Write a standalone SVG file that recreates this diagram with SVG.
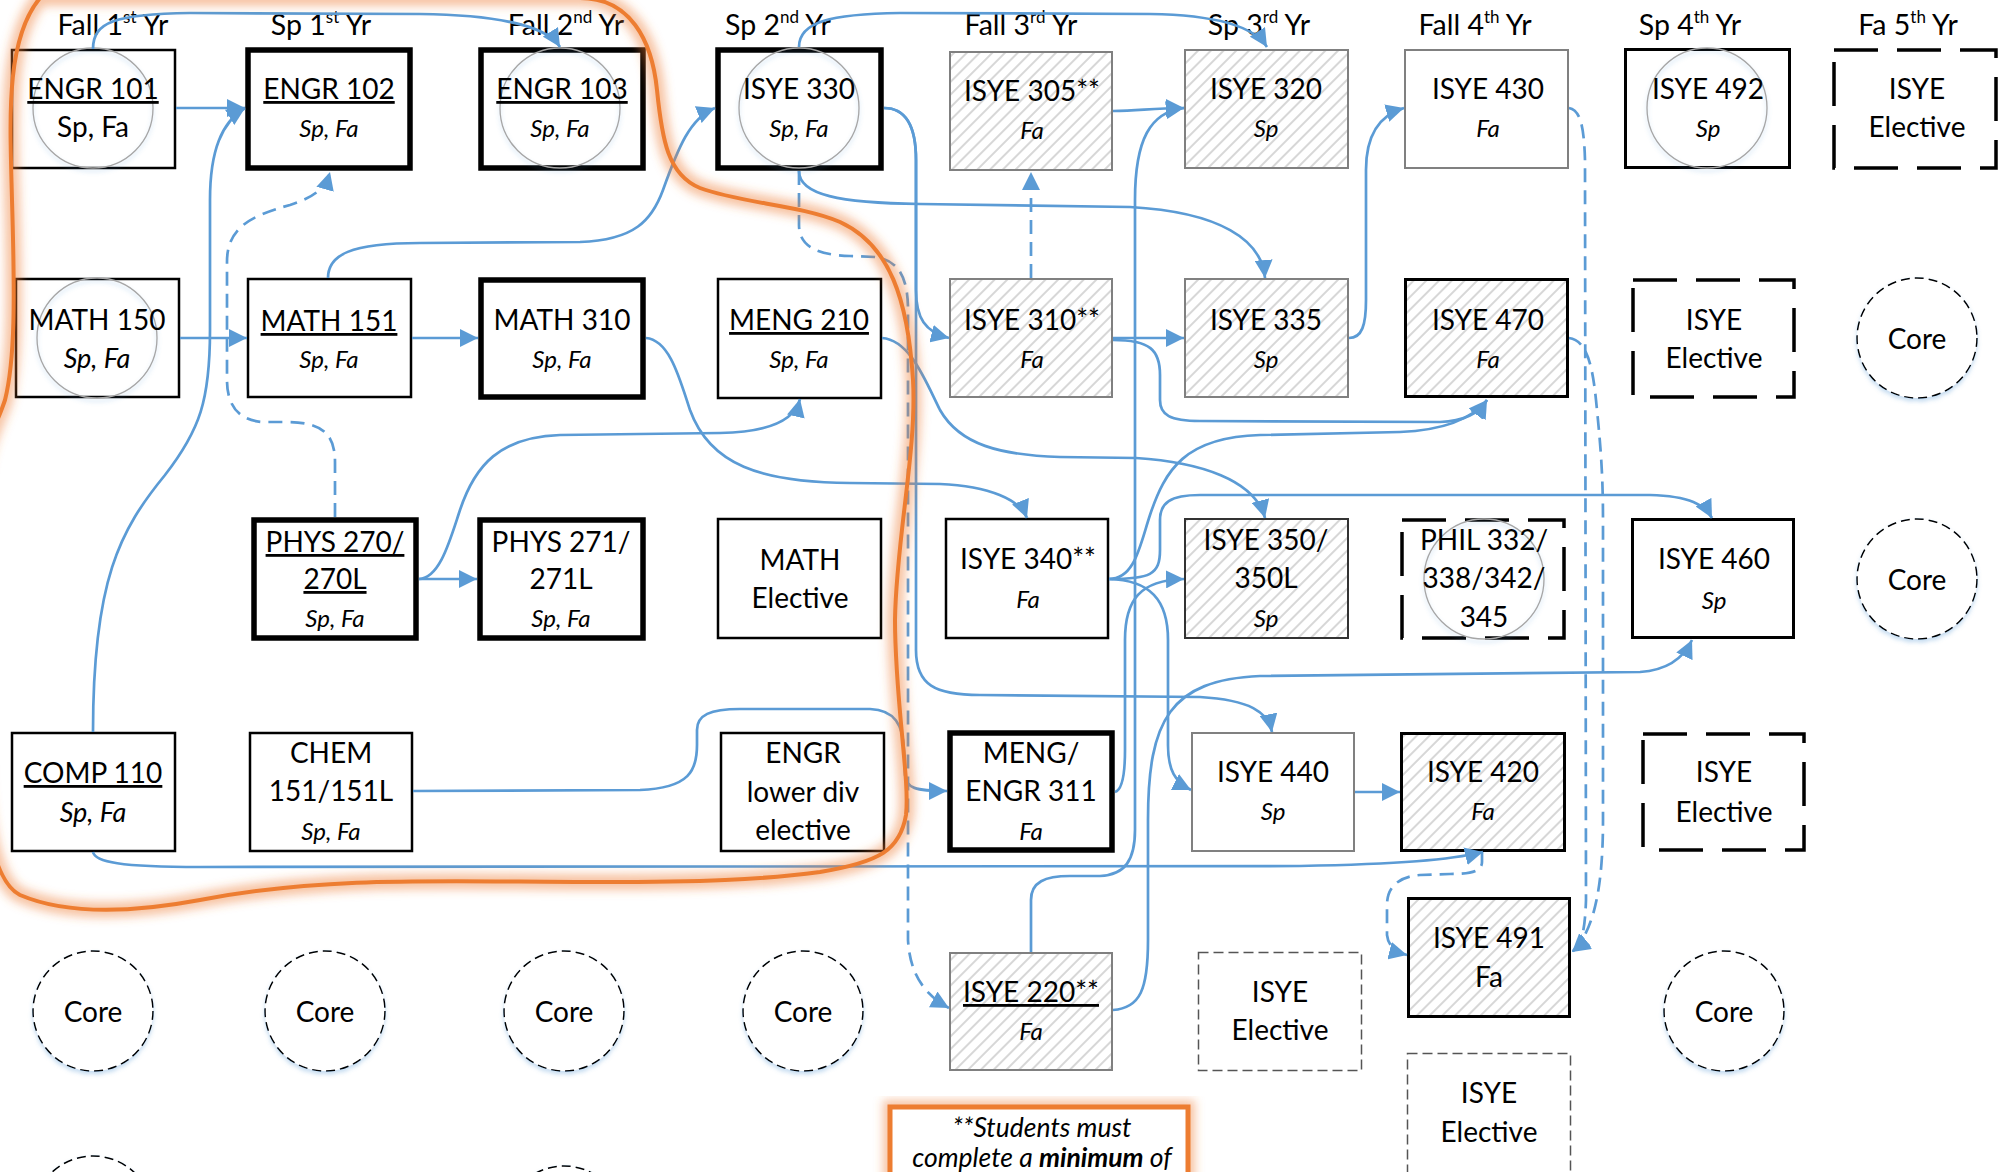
<svg xmlns="http://www.w3.org/2000/svg" width="2002" height="1172" viewBox="0 0 2002 1172">
<defs>
<style>
.t{font-family:Lato,"Liberation Sans",sans-serif;font-size:28px;fill:#000;text-anchor:middle}
.s{font-size:24px;font-style:italic}
.si{font-size:27px;font-style:italic}
.u{text-decoration:underline}
.hd{font-size:28.5px}
.sup{font-size:17px}
.thick{fill:#fff;stroke:#000;stroke-width:5.5}
.thin{fill:#fff;stroke:#000;stroke-width:2.5}
.med{fill:#fff;stroke:#000;stroke-width:3}
.gray{fill:#fff;stroke:#808080;stroke-width:2}
.hatch{fill:url(#hatch)}
.dashk{fill:#fff;stroke:#000;stroke-width:3.5;stroke-dasharray:44 19}
.dashg{fill:#fff;stroke:#555;stroke-width:1.5;stroke-dasharray:10 5}
.core{fill:#fff;stroke:#000;stroke-width:1.5;stroke-dasharray:9 5;filter:url(#sh)}
.ring{fill:none;stroke:#a6a6a6;stroke-width:1.3;filter:url(#sh)}
.c{fill:none;stroke:#5B9BD5;stroke-width:2.7;marker-end:url(#ah)}
.d{stroke-dasharray:14 8}
.nt{font-size:26.5px;font-style:italic}
</style>
<pattern id="hatch" patternUnits="userSpaceOnUse" width="9" height="9" patternTransform="rotate(45)">
<rect width="9" height="9" fill="#fff"/>
<line x1="1" y1="0" x2="1" y2="9" stroke="#cdcdcd" stroke-width="1.6"/>
</pattern>
<marker id="ah" viewBox="0 0 10 10" refX="10" refY="5" markerWidth="18" markerHeight="18" markerUnits="userSpaceOnUse" orient="auto">
<path d="M0,0 L10,5 L0,10 z" fill="#5B9BD5"/>
</marker>
<filter id="sh" x="-20%" y="-20%" width="140%" height="150%">
<feDropShadow dx="0" dy="3" stdDeviation="2" flood-color="#5B9BD5" flood-opacity="0.35"/>
</filter>
<filter id="glow" x="-10%" y="-10%" width="120%" height="120%">
<feGaussianBlur stdDeviation="5"/>
</filter>
</defs>
<rect width="2002" height="1172" fill="#fff"/>

<g id="headers">
<text class="t hd" x="113" y="35">Fall 1<tspan class="sup" dy="-12">st</tspan><tspan dy="12"> Yr</tspan></text>
<text class="t hd" x="321" y="35">Sp 1<tspan class="sup" dy="-12">st</tspan><tspan dy="12"> Yr</tspan></text>
<text class="t hd" x="566" y="35">Fall 2<tspan class="sup" dy="-12">nd</tspan><tspan dy="12"> Yr</tspan></text>
<text class="t hd" x="778" y="35">Sp 2<tspan class="sup" dy="-12">nd</tspan><tspan dy="12"> Yr</tspan></text>
<text class="t hd" x="1021" y="35">Fall 3<tspan class="sup" dy="-12">rd</tspan><tspan dy="12"> Yr</tspan></text>
<text class="t hd" x="1259" y="35">Sp 3<tspan class="sup" dy="-12">rd</tspan><tspan dy="12"> Yr</tspan></text>
<text class="t hd" x="1475" y="35">Fall 4<tspan class="sup" dy="-12">th</tspan><tspan dy="12"> Yr</tspan></text>
<text class="t hd" x="1690" y="35">Sp 4<tspan class="sup" dy="-12">th</tspan><tspan dy="12"> Yr</tspan></text>
<text class="t hd" x="1908" y="35">Fa 5<tspan class="sup" dy="-12">th</tspan><tspan dy="12"> Yr</tspan></text>
</g>

<!-- Row 1 -->
<g id="engr101"><rect class="thin" x="12" y="50" width="163" height="118"/><circle class="ring" cx="93" cy="108" r="60"/><text class="t u" x="93" y="99">ENGR 101</text><text class="t" x="93" y="137">Sp, Fa</text></g>
<g id="engr102"><rect class="thick" x="248" y="50" width="162" height="118"/><text class="t u" x="329" y="99">ENGR 102</text><text class="t s" x="329" y="137">Sp, Fa</text></g>
<g id="engr103"><rect class="thick" x="481" y="50" width="162" height="118"/><circle class="ring" cx="560" cy="108" r="60"/><text class="t u" x="562" y="99">ENGR 103</text><text class="t s" x="560" y="137">Sp, Fa</text></g>
<g id="isye330"><rect class="thick" x="718" y="50" width="163" height="118"/><circle class="ring" cx="799" cy="108" r="60"/><text class="t" x="799" y="99">ISYE 330</text><text class="t s" x="799" y="137">Sp, Fa</text></g>
<g id="isye305"><rect class="gray hatch" x="950" y="52" width="162" height="118"/><text class="t" x="1032" y="101">ISYE 305**</text><text class="t s" x="1032" y="139">Fa</text></g>
<g id="isye320"><rect class="gray hatch" x="1185" y="50" width="163" height="118"/><text class="t" x="1266" y="99">ISYE 320</text><text class="t s" x="1266" y="137">Sp</text></g>
<g id="isye430"><rect class="gray" x="1405" y="50" width="163" height="118"/><text class="t" x="1488" y="99">ISYE 430</text><text class="t s" x="1488" y="137">Fa</text></g>
<g id="isye492"><rect class="med" x="1625.5" y="49.5" width="164" height="118"/><circle class="ring" cx="1707" cy="108" r="60"/><text class="t" x="1708" y="99">ISYE 492</text><text class="t s" x="1708" y="137">Sp</text></g>
<g id="elective1"><rect class="dashk" x="1834" y="50" width="162" height="118"/><text class="t" x="1917" y="99">ISYE</text><text class="t" x="1917" y="137">Elective</text></g>

<!-- Row 2 -->
<g id="math150"><rect class="thin" x="16" y="279" width="163" height="118"/><circle class="ring" cx="97" cy="338" r="60"/><text class="t" x="97" y="330">MATH 150</text><text class="t si" x="97" y="368">Sp, Fa</text></g>
<g id="math151"><rect class="thin" x="248" y="279" width="163" height="118"/><text class="t u" x="329" y="331">MATH 151</text><text class="t s" x="329" y="368">Sp, Fa</text></g>
<g id="math310"><rect class="thick" x="481" y="280" width="162" height="117"/><text class="t" x="562" y="330">MATH 310</text><text class="t s" x="562" y="368">Sp, Fa</text></g>
<g id="meng210"><rect class="thin" x="718" y="279" width="163" height="119"/><text class="t u" x="799" y="330">MENG 210</text><text class="t s" x="799" y="368">Sp, Fa</text></g>
<g id="isye310"><rect class="gray hatch" x="950" y="279" width="162" height="118"/><text class="t" x="1032" y="330">ISYE 310**</text><text class="t s" x="1032" y="368">Fa</text></g>
<g id="isye335"><rect class="gray hatch" x="1185" y="279" width="163" height="118"/><text class="t" x="1266" y="330">ISYE 335</text><text class="t s" x="1266" y="368">Sp</text></g>
<g id="isye470"><rect class="med hatch" x="1405.5" y="279.5" width="162" height="117"/><text class="t" x="1488" y="330">ISYE 470</text><text class="t s" x="1488" y="368">Fa</text></g>
<g id="elective2"><rect class="dashk" x="1633" y="280" width="161" height="117"/><text class="t" x="1714" y="330">ISYE</text><text class="t" x="1714" y="368">Elective</text></g>
<g id="core1"><circle class="core" cx="1917" cy="338" r="60"/><text class="t" x="1917" y="349">Core</text></g>

<!-- Row 3 -->
<g id="phys270"><rect class="thick" x="254" y="520" width="162" height="118"/><text class="t u" x="335" y="552">PHYS 270/</text><text class="t u" x="335" y="589">270L</text><text class="t s" x="335" y="627">Sp, Fa</text></g>
<g id="phys271"><rect class="thick" x="480" y="520" width="163" height="118"/><text class="t" x="561" y="552">PHYS 271/</text><text class="t" x="561" y="589">271L</text><text class="t s" x="561" y="627">Sp, Fa</text></g>
<g id="mathelective"><rect class="thin" x="718" y="519" width="163" height="119"/><text class="t" x="800" y="570">MATH</text><text class="t" x="800" y="608">Elective</text></g>
<g id="isye340"><rect class="thin" x="946" y="519" width="162" height="119"/><text class="t" x="1028" y="569">ISYE 340**</text><text class="t s" x="1028" y="608">Fa</text></g>
<g id="isye350"><rect class="gray hatch" style="stroke:#333" x="1185" y="519" width="163" height="119"/><text class="t" x="1266" y="550">ISYE 350/</text><text class="t" x="1266" y="588">350L</text><text class="t s" x="1266" y="627">Sp</text></g>
<g id="phil"><rect class="dashk" x="1402" y="520" width="162" height="118"/><circle class="ring" cx="1484" cy="579" r="60"/><text class="t" x="1484" y="550">PHIL 332/</text><text class="t" x="1484" y="588">338/342/</text><text class="t" x="1484" y="627">345</text></g>
<g id="isye460"><rect class="med" x="1632.5" y="519.5" width="161" height="118"/><text class="t" x="1714" y="569">ISYE 460</text><text class="t s" x="1714" y="609">Sp</text></g>
<g id="core2"><circle class="core" cx="1917" cy="579" r="60"/><text class="t" x="1917" y="590">Core</text></g>

<!-- Row 4 -->
<g id="comp110"><rect class="thin" x="12" y="733" width="163" height="118"/><text class="t u" x="93" y="783">COMP 110</text><text class="t si" x="93" y="822">Sp, Fa</text></g>
<g id="chem"><rect class="thin" x="250" y="733" width="162" height="118"/><text class="t" x="331" y="763">CHEM</text><text class="t" x="331" y="801">151/151L</text><text class="t s" x="331" y="840">Sp, Fa</text></g>
<g id="engrlower"><rect class="thin" x="721" y="733" width="163" height="118"/><text class="t" x="803" y="763">ENGR</text><text class="t" x="803" y="802">lower div</text><text class="t" x="803" y="840">elective</text></g>
<g id="meng311"><rect class="thick" x="950" y="733" width="162" height="117"/><text class="t" x="1031" y="763">MENG/</text><text class="t" x="1031" y="801">ENGR 311</text><text class="t s" x="1031" y="840">Fa</text></g>
<g id="isye440"><rect class="gray" x="1192" y="733" width="162" height="118"/><text class="t" x="1273" y="782">ISYE 440</text><text class="t s" x="1273" y="820">Sp</text></g>
<g id="isye420"><rect class="med hatch" x="1401.5" y="733.5" width="163" height="117"/><text class="t" x="1483" y="782">ISYE 420</text><text class="t s" x="1483" y="820">Fa</text></g>
<g id="elective3"><rect class="dashk" x="1643" y="734" width="161" height="116"/><text class="t" x="1724" y="782">ISYE</text><text class="t" x="1724" y="822">Elective</text></g>

<!-- Row 5 -->
<g id="core3"><circle class="core" cx="93" cy="1011" r="60"/><text class="t" x="93" y="1022">Core</text></g>
<g id="core4"><circle class="core" cx="325" cy="1011" r="60"/><text class="t" x="325" y="1022">Core</text></g>
<g id="core5"><circle class="core" cx="564" cy="1011" r="60"/><text class="t" x="564" y="1022">Core</text></g>
<g id="core6"><circle class="core" cx="803" cy="1011" r="60"/><text class="t" x="803" y="1022">Core</text></g>
<g id="isye220"><rect class="gray hatch" x="950" y="953" width="162" height="117"/><text class="t u" x="1031" y="1002">ISYE 220**</text><text class="t s" x="1031" y="1040">Fa</text></g>
<g id="elective4"><rect class="dashg" x="1198.5" y="952.5" width="163" height="118"/><text class="t" x="1280" y="1002">ISYE</text><text class="t" x="1280" y="1040">Elective</text></g>
<g id="isye491"><rect class="med hatch" x="1408.5" y="898.5" width="161" height="118"/><text class="t" x="1489" y="948">ISYE 491</text><text class="t" x="1489" y="987">Fa</text></g>
<g id="core7"><circle class="core" cx="1724" cy="1011" r="60"/><text class="t" x="1724" y="1022">Core</text></g>
<g id="elective5"><rect class="dashg" x="1407.5" y="1053.5" width="163" height="160"/><text class="t" x="1489" y="1103">ISYE</text><text class="t" x="1489" y="1142">Elective</text></g>
<g id="core8"><circle class="core" cx="93" cy="1216" r="60"/></g>
<g id="core9"><circle class="core" cx="564" cy="1226" r="60"/></g>

<g id="connectors">
<path class="c" d="M176,108 L245,108"/>
<path class="c" d="M93,49 C93,22 115,14 190,13 L420,14 C505,15 548,28 560,47"/>
<path class="c" d="M799,47 C799,22 830,14 900,13 L1150,14 C1220,15 1255,28 1267,47"/>
<path class="c" d="M93,732 C93,580 120,530 165,475 C200,430 210,400 210,330 L210,200 C210,150 222,122 245,108"/>
<path class="c" d="M180,338 L247,338"/>
<path class="c" d="M412,338 L478,338"/>
<path class="c" d="M328,278 C328,255 350,243 420,243 L580,242 C635,240 652,220 663,190 C678,148 690,118 715,108"/>
<path class="c d" d="M335,517 L335,462 C335,432 320,422 285,422 L262,422 C238,420 227,405 227,380 L227,262 C227,228 250,216 290,205 C318,196 326,186 330,172"/>
<path class="c" d="M646,338 C670,340 680,380 690,410 C710,465 760,482 850,483 L940,484 C990,486 1020,500 1027,518"/>
<path class="c" d="M882,338 C910,340 925,380 940,410 C960,445 1000,455 1060,457 L1136,458 C1200,462 1255,480 1265,518"/>
<path class="c" d="M884,108 C905,108 916,125 916,160 L916,290 C916,318 925,332 949,338"/>
<path class="c" d="M884,108 C905,108 916,125 916,160 L916,650 C916,685 935,695 980,695 L1200,697 C1250,700 1268,712 1272,732"/>
<path class="c" d="M799,171 C799,195 840,203 920,204 L1130,207 C1220,212 1262,240 1265,278"/>
<path class="c d" d="M799,171 L799,225 C799,245 815,255 850,256 L875,257 C900,260 908,280 908,310 L908,940 C910,975 925,995 949,1008"/>
<path class="c" d="M1113,111 C1140,111 1150,108 1184,108"/>
<path class="c d" d="M1031,278 L1031,172"/>
<path class="c" d="M1113,338 L1184,338"/>
<path class="c" d="M1113,340 C1150,340 1160,350 1160,375 L1160,400 C1160,415 1170,421 1200,421 L1440,422 C1465,421 1480,412 1487,400"/>
<path class="c" d="M1109,579 C1135,579 1140,545 1150,515 C1165,470 1185,437 1260,435 L1400,432 C1450,430 1475,415 1487,400"/>
<path class="c" d="M1109,579 C1150,579 1160,575 1160,550 L1160,520 C1160,503 1170,495 1200,495 L1650,495 C1690,496 1705,505 1712,518"/>
<path class="c" d="M1109,579 C1150,580 1168,600 1168,640 L1168,745 C1168,770 1175,782 1191,790"/>
<path class="c" d="M1115,792 C1122,790 1125,775 1125,750 L1125,640 C1125,600 1140,580 1184,579"/>
<path class="c" d="M419,579 C440,578 450,540 460,510 C475,465 500,437 560,435 L720,433 C770,432 795,420 800,399"/>
<path class="c" d="M413,791 L640,790 C690,788 697,770 697,745 L697,730 C697,715 710,709 740,709 L870,709 C895,710 903,725 904,750 L905,775 C906,788 915,791 947,791"/>
<path class="c" d="M419,579 L477,579"/>
<path class="c" d="M1349,338 C1362,338 1366,325 1366,300 L1366,170 C1366,135 1380,115 1404,108"/>
<path class="c" d="M1355,792 L1400,792"/>
<path class="c d" d="M1482,852 L1482,862 C1482,872 1470,874 1450,874 L1420,875 C1395,877 1387,890 1387,905 L1387,935 C1388,945 1395,952 1407,955"/>
<path class="c d" d="M1569,108 C1580,110 1584,125 1585,160 L1586,900 C1585,930 1582,945 1572,952"/>
<path class="c d" d="M1569,338 C1585,340 1592,360 1596,400 C1600,440 1603,470 1603,520 L1603,820 C1603,880 1596,930 1572,952"/>
<path class="c" d="M93,852 C95,862 120,867 200,867 L1300,866 C1400,864 1450,860 1483,852"/>
<path class="c" d="M1031,952 L1031,900 C1031,882 1045,876 1070,876 L1100,876 C1125,875 1135,860 1135,830 L1135,200 C1135,140 1150,112 1184,108"/>
<path class="c" d="M1113,1010 C1140,1008 1148,990 1148,940 L1148,820 C1148,720 1170,680 1260,676 L1640,672 C1670,670 1685,655 1692,640"/>
</g>

<g id="boundary">
<path d="M40,-2 L580,-2 C630,-2 652,40 657,90 C662,140 668,175 700,188 C740,203 800,205 840,222 C890,245 908,300 913,380 C917,450 896,540 895,620 C895,700 910,780 906,815 C900,850 880,862 820,872 C760,880 700,882 600,882 C450,882 330,875 200,900 C120,915 60,912 20,895 C-10,880 -20,800 -20,700 L-20,500 C-20,450 -5,430 5,400 C15,360 15,300 12,200 C10,120 5,40 40,-2 Z" fill="none" stroke="#ED7D31" stroke-width="16" stroke-opacity="0.45" filter="url(#glow)"/>
<path d="M40,-2 L580,-2 C630,-2 652,40 657,90 C662,140 668,175 700,188 C740,203 800,205 840,222 C890,245 908,300 913,380 C917,450 896,540 895,620 C895,700 910,780 906,815 C900,850 880,862 820,872 C760,880 700,882 600,882 C450,882 330,875 200,900 C120,915 60,912 20,895 C-10,880 -20,800 -20,700 L-20,500 C-20,450 -5,430 5,400 C15,360 15,300 12,200 C10,120 5,40 40,-2 Z" fill="none" stroke="#ED7D31" stroke-width="4"/>
</g>

<g id="note">
<rect x="890" y="1107" width="298" height="110" fill="none" stroke="#ED7D31" stroke-width="14" stroke-opacity="0.45" filter="url(#glow)"/>
<rect x="890" y="1107" width="298" height="110" fill="#fff" stroke="#ED7D31" stroke-width="5"/>
<text class="t nt" x="1042" y="1137">**Students must</text>
<text class="t nt" x="1042" y="1167">complete a <tspan font-weight="bold">minimum</tspan> of</text>
</g>
</svg>
